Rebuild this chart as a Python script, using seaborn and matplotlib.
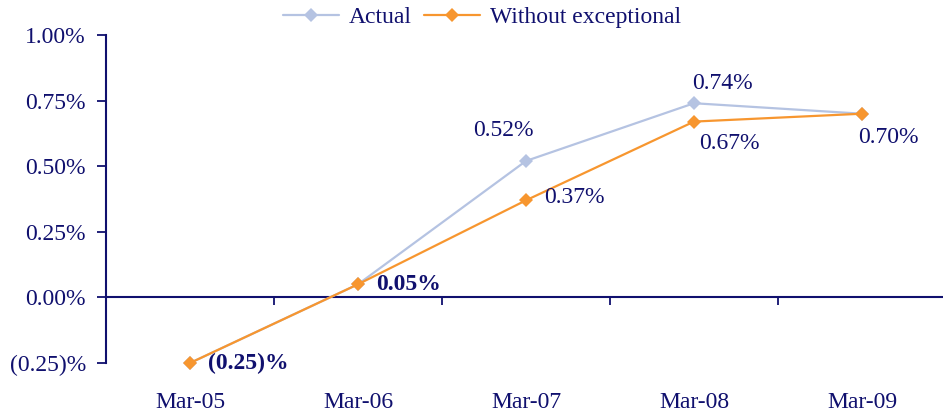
import matplotlib
matplotlib.use('Agg')
import matplotlib.pyplot as plt
import seaborn as sns
import pandas as pd

# ---- data ----
categories = ['Mar-05', 'Mar-06', 'Mar-07', 'Mar-08', 'Mar-09']
actual = [-0.25, 0.05, 0.52, 0.74, 0.70]
without_exceptional = [-0.25, 0.05, 0.37, 0.67, 0.70]
series_names = ['Actual', 'Without exceptional']
y_ticks = [-0.25, 0.0, 0.25, 0.50, 0.75, 1.00]


def pct(v):
    return f'({abs(v):.2f})%' if v < 0 else f'{v:.2f}%'


sns.set_theme(style='white')
plt.rcParams['font.family'] = ['Liberation Serif', 'DejaVu Serif']

NAVY = '#10106e'
C_ACT = '#b5c3e2'
C_WO = '#f7962f'
FS = 17

df = pd.DataFrame({
    'x': list(range(len(categories))) * 2,
    'value': actual + without_exceptional,
    'series': [series_names[0]] * len(actual) + [series_names[1]] * len(without_exceptional),
})

fig = plt.figure(figsize=(9.43, 4.13), dpi=100)
ax = fig.add_axes([106 / 943, 50 / 413, 840 / 943, 328 / 413])

sns.lineplot(data=df, x='x', y='value', hue='series', hue_order=series_names,
             palette=[C_ACT, C_WO], marker='D', markersize=7, markeredgewidth=0,
             linewidth=1.6, sort=False, ax=ax, legend=False)
for ln in ax.get_lines():
    ln.set_clip_on(False)
    ln.set_zorder(3)

ax.set_xlim(-0.5, 4.5)
ax.set_ylim(-0.25, 1.0)
ax.set_xlabel('')
ax.set_ylabel('')

# y axis
ax.set_yticks(y_ticks, [pct(v) for v in y_ticks])
ax.tick_params(axis='y', colors=NAVY, labelsize=FS, length=6.5, width=1.3,
               direction='out', left=True, pad=8)

# spines
for s in ['top', 'right']:
    ax.spines[s].set_visible(False)
ax.spines['left'].set_color(NAVY)
ax.spines['left'].set_linewidth(1.5)
ax.spines['bottom'].set_position(('data', 0))
ax.spines['bottom'].set_color(NAVY)
ax.spines['bottom'].set_linewidth(1.5)

# category boundary ticks on the zero line
ax.set_xticks([i - 0.5 for i in range(len(categories) + 1)])
ax.set_xticklabels([])
ax.tick_params(axis='x', bottom=True, length=5.5, width=1.3, colors=NAVY, direction='out')

# category labels at the bottom
sec = ax.secondary_xaxis('bottom')
sec.set_xticks(range(len(categories)), categories)
sec.spines['bottom'].set_visible(False)
sec.tick_params(axis='x', length=0, pad=21, labelsize=FS, colors=NAVY)

# data labels
label_specs = [
    # (series index, point index, dx px, dy px, ha, bold)
    (1, 0, 18, 0, 'left', True),
    (1, 1, 18, 0, 'left', True),
    (0, 2, -23, 30, 'center', False),
    (1, 2, 18, 3, 'left', False),
    (0, 3, 28, 20, 'center', False),
    (1, 3, 35, -22, 'center', False),
    (1, 4, 26, -24, 'center', False),
]
vals = [actual, without_exceptional]
for si, pi, dx, dy, ha, bold in label_specs:
    v = vals[si][pi]
    ax.annotate(pct(v), (pi, v), xytext=(dx, dy), textcoords='offset pixels',
                ha=ha, va='center', fontsize=FS, color=NAVY,
                fontweight='bold' if bold else 'normal', annotation_clip=False)

# legend
handles = [plt.Line2D([], [], color=c, marker='D', markersize=7, markeredgewidth=0, linewidth=1.6)
           for c in [C_ACT, C_WO]]
leg = fig.legend(handles, series_names, loc='upper center', bbox_to_anchor=(0.511, 1.035),
                 ncol=2, frameon=False, fontsize=FS, handlelength=2.4,
                 columnspacing=0.5, handletextpad=0.4)
for t in leg.get_texts():
    t.set_color(NAVY)

fig.savefig('out.png', dpi=100)
